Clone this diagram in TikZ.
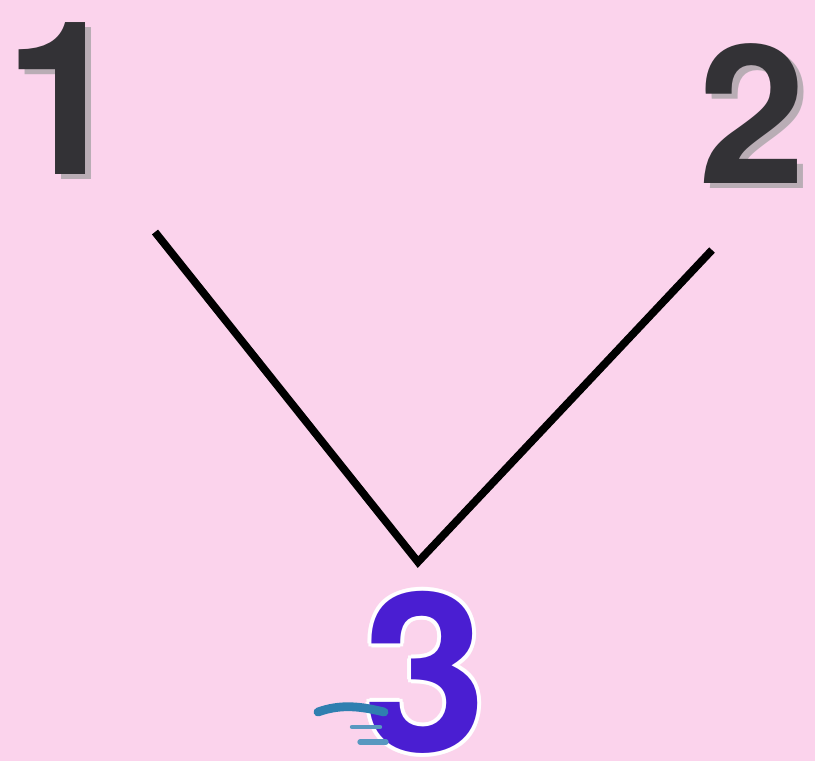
\documentclass[tikz,border=0pt]{standalone}
\usepackage{fontspec}
\setmainfont{TeX Gyre Heros}
\usepackage{xcolor}
\usetikzlibrary{calc,positioning}
\definecolor{pinkbg}{HTML}{FBD3EC}
\definecolor{digitx}{HTML}{333236}
\definecolor{shadowx}{HTML}{A9A4A8}
\definecolor{bluex}{HTML}{4A1ED2}
\definecolor{splashx}{HTML}{2F7FB0}
\tikzset{
  digit/.style={font=\fontsize{122}{122}\selectfont\bfseries,inner sep=0pt,text=digitx},
  shade/.style={text=shadowx,opacity=0.8},
  halo/.style={text=white}
}

\begin{document}
\begin{tikzpicture}[x=0.02cm,y=-0.02cm]
\fill[pinkbg] (0,0) rectangle (815,761);
\useasboundingbox (0,0) rectangle (815,761);
% digits with their shadows
\node[digit,shade] at (70,104) {1};
\node[digit] (one) at (64,99) {1};
\node[digit,font=\fontsize{110}{110}\selectfont\bfseries,shade] at (758,119) {2};
\node[digit,font=\fontsize{110}{110}\selectfont\bfseries] (two) at (752,114) {2};
% white halo round the three
\foreach \dx/\dy in {-4/0,4/0,0/-4,0/4,-3/-3,3/3,-3/3,3/-3}
  \node[digit,font=\fontsize{126}{126}\selectfont\bfseries,halo] at ({425+\dx},{672+\dy}) {3};
\node[digit,font=\fontsize{126}{126}\selectfont\bfseries,text=bluex] (three) at (425,672) {3};
% splash left of the three
\draw[splashx,line width=5pt,line cap=round] (318,712) .. controls (340,704) and (360,706) .. (384,712);
\draw[splashx!80,line width=2.5pt,line cap=round] (352,727) -- (380,727);
\draw[splashx!80,line width=3pt,line cap=round] (360,742) -- (386,742);
% the V
\coordinate (left) at (155,232);
\coordinate (tip) at (418,562);
\coordinate (right) at (712,250);
\draw[line width=4.4pt] (left) -- (tip) -- (right);
\end{tikzpicture}
\end{document}
